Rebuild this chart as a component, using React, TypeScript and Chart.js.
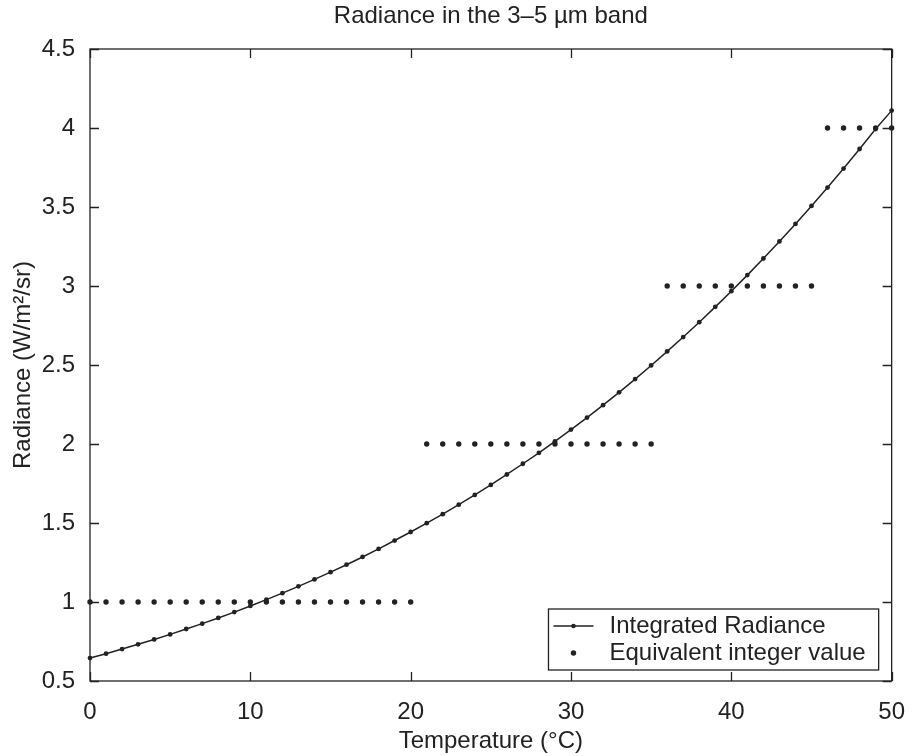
import React, { useEffect, useRef } from "react";
import { Chart, registerables } from "chart.js";

Chart.register(...registerables);

const TITLE = "Radiance in the 3–5 µm band";
const X_TITLE = "Temperature (°C)";
const Y_TITLE = "Radiance (W/m²/sr)";
const SERIES_LABELS = ["Integrated Radiance", "Equivalent integer value"];

const temperatures = [
  0, 1, 2, 3, 4, 5, 6, 7, 8, 9, 10, 11, 12, 13, 14, 15, 16, 17, 18, 19, 20,
  21, 22, 23, 24, 25, 26, 27, 28, 29, 30, 31, 32, 33, 34, 35, 36, 37, 38, 39,
  40, 41, 42, 43, 44, 45, 46, 47, 48, 49, 50,
];

const radiance = [
  0.645, 0.673, 0.702, 0.732, 0.763, 0.795, 0.829, 0.863, 0.899, 0.936, 0.975,
  1.015, 1.056, 1.099, 1.143, 1.189, 1.236, 1.285, 1.336, 1.389, 1.443,
  1.499, 1.556, 1.616, 1.678, 1.741, 1.807, 1.875, 1.944, 2.017, 2.091,
  2.167, 2.246, 2.327, 2.411, 2.497, 2.586, 2.677, 2.771, 2.868, 2.967,
  3.069, 3.174, 3.282, 3.393, 3.507, 3.623, 3.743, 3.867, 3.993, 4.11,
];

const integerValues = [
  1, 1, 1, 1, 1, 1, 1, 1, 1, 1, 1, 1, 1, 1, 1, 1, 1, 1, 1, 1, 1,
  2, 2, 2, 2, 2, 2, 2, 2, 2, 2, 2, 2, 2, 2, 2,
  3, 3, 3, 3, 3, 3, 3, 3, 3, 3,
  4, 4, 4, 4, 4,
];

const xTickLabels = ["0", "10", "20", "30", "40", "50"];
const yTickLabels = ["0.5", "1", "1.5", "2", "2.5", "3", "3.5", "4", "4.5"];

const INK = "#222222";
const FAMILY = "'Liberation Sans', Arial, Helvetica, sans-serif";
const TICK_FONT = { family: FAMILY, size: 24, weight: "normal" as const };

const frameAndLegend = {
  id: "frameAndLegend",
  afterDatasetsDraw(chart: any) {
    const { ctx, chartArea: a, scales } = chart;
    ctx.save();
    ctx.strokeStyle = INK;
    ctx.lineWidth = 1.3;
    ctx.strokeRect(a.left, a.top, a.right - a.left, a.bottom - a.top);
    const L = 9;
    ctx.beginPath();
    scales.x.ticks.forEach((t: any) => {
      const px = Math.round(scales.x.getPixelForValue(t.value)) + 0.5;
      ctx.moveTo(px, a.bottom);
      ctx.lineTo(px, a.bottom - L);
      ctx.moveTo(px, a.top);
      ctx.lineTo(px, a.top + L);
    });
    scales.y.ticks.forEach((t: any) => {
      const py = Math.round(scales.y.getPixelForValue(t.value)) + 0.5;
      ctx.moveTo(a.left, py);
      ctx.lineTo(a.left + L, py);
      ctx.moveTo(a.right, py);
      ctx.lineTo(a.right - L, py);
    });
    ctx.stroke();

    // legend
    ctx.font = `24px ${FAMILY}`;
    const labels = chart.data.datasets.map((d: any) => d.label);
    const maxW = Math.max(...labels.map((l: string) => ctx.measureText(l).width));
    const right = a.right - 13;
    const bottom = a.bottom - 11;
    const top = bottom - 61;
    const textX = right - 13 - maxW;
    const sc = textX - 36;
    const left = textX - 61;
    ctx.fillStyle = "#ffffff";
    ctx.fillRect(left, top, right - left, bottom - top);
    ctx.strokeRect(left, top, right - left, bottom - top);
    const r1 = top + 17;
    const r2 = top + 44;
    ctx.beginPath();
    ctx.moveTo(sc - 20, r1);
    ctx.lineTo(sc + 20, r1);
    ctx.lineWidth = 1.3;
    ctx.stroke();
    ctx.fillStyle = INK;
    ctx.beginPath();
    ctx.arc(sc, r1, 2.3, 0, Math.PI * 2);
    ctx.fill();
    ctx.beginPath();
    ctx.arc(sc, r2, 2.7, 0, Math.PI * 2);
    ctx.fill();
    ctx.textBaseline = "middle";
    ctx.textAlign = "left";
    ctx.fillText(labels[0], textX, r1);
    ctx.fillText(labels[1], textX, r2);
    ctx.restore();
  },
};

export default function App() {
  const ref = useRef<HTMLCanvasElement | null>(null);
  useEffect(() => {
    if (!ref.current) return;
    const chart = new Chart(ref.current, {
      type: "scatter",
      data: {
        datasets: [
          {
            label: SERIES_LABELS[0],
            data: temperatures.map((t, i) => ({ x: t, y: radiance[i] })),
            showLine: true,
            borderColor: INK,
            borderWidth: 1.5,
            pointRadius: 2.4,
            pointBackgroundColor: INK,
            pointBorderWidth: 0,
            tension: 0,
            clip: 4,
          } as any,
          {
            label: SERIES_LABELS[1],
            data: temperatures.map((t, i) => ({ x: t, y: integerValues[i] })),
            showLine: false,
            pointRadius: 2.7,
            pointBackgroundColor: INK,
            pointBorderWidth: 0,
            clip: 4,
          } as any,
        ],
      },
      options: {
        animation: false,
        responsive: false,
        layout: { padding: { left: 0, right: 15, top: 0, bottom: 0 } },
        plugins: {
          legend: { display: false },
          tooltip: { enabled: false },
          title: {
            display: true,
            fullSize: false,
            text: TITLE,
            color: INK,
            font: { family: FAMILY, size: 24, weight: "normal", lineHeight: 1.2 },
            padding: { top: 2, bottom: 18.2 },
          },
        },
        scales: {
          x: {
            type: "linear",
            min: 0,
            max: 50,
            afterFit: (s: any) => {
              s.height = 75;
            },
            ticks: {
              stepSize: 10,
              color: INK,
              font: TICK_FONT,
              padding: 9,
              maxRotation: 0,
              callback: (_v: any, i: number) => xTickLabels[i],
            },
            grid: { display: false },
            border: { display: false },
            title: {
              display: true,
              text: X_TITLE,
              color: INK,
              font: TICK_FONT,
              padding: { top: 0, bottom: 0 },
            },
          },
          y: {
            type: "linear",
            min: 0.5,
            max: 4.5,
            afterFit: (s: any) => {
              s.width = 90;
            },
            ticks: {
              stepSize: 0.5,
              color: INK,
              font: TICK_FONT,
              padding: 7,
              callback: (_v: any, i: number) => yTickLabels[i],
            },
            grid: { display: false },
            border: { display: false },
            title: {
              display: true,
              text: Y_TITLE,
              color: INK,
              font: TICK_FONT,
              padding: { top: 9, bottom: 0 },
            },
          },
        },
      },
      plugins: [frameAndLegend],
    } as any);
    return () => chart.destroy();
  }, []);
  return (
    <div style={{ position: "fixed", left: 0, top: 0, width: 914, height: 756, background: "#fff" }}>
      <canvas ref={ref} width={914} height={756} />
    </div>
  );
}
